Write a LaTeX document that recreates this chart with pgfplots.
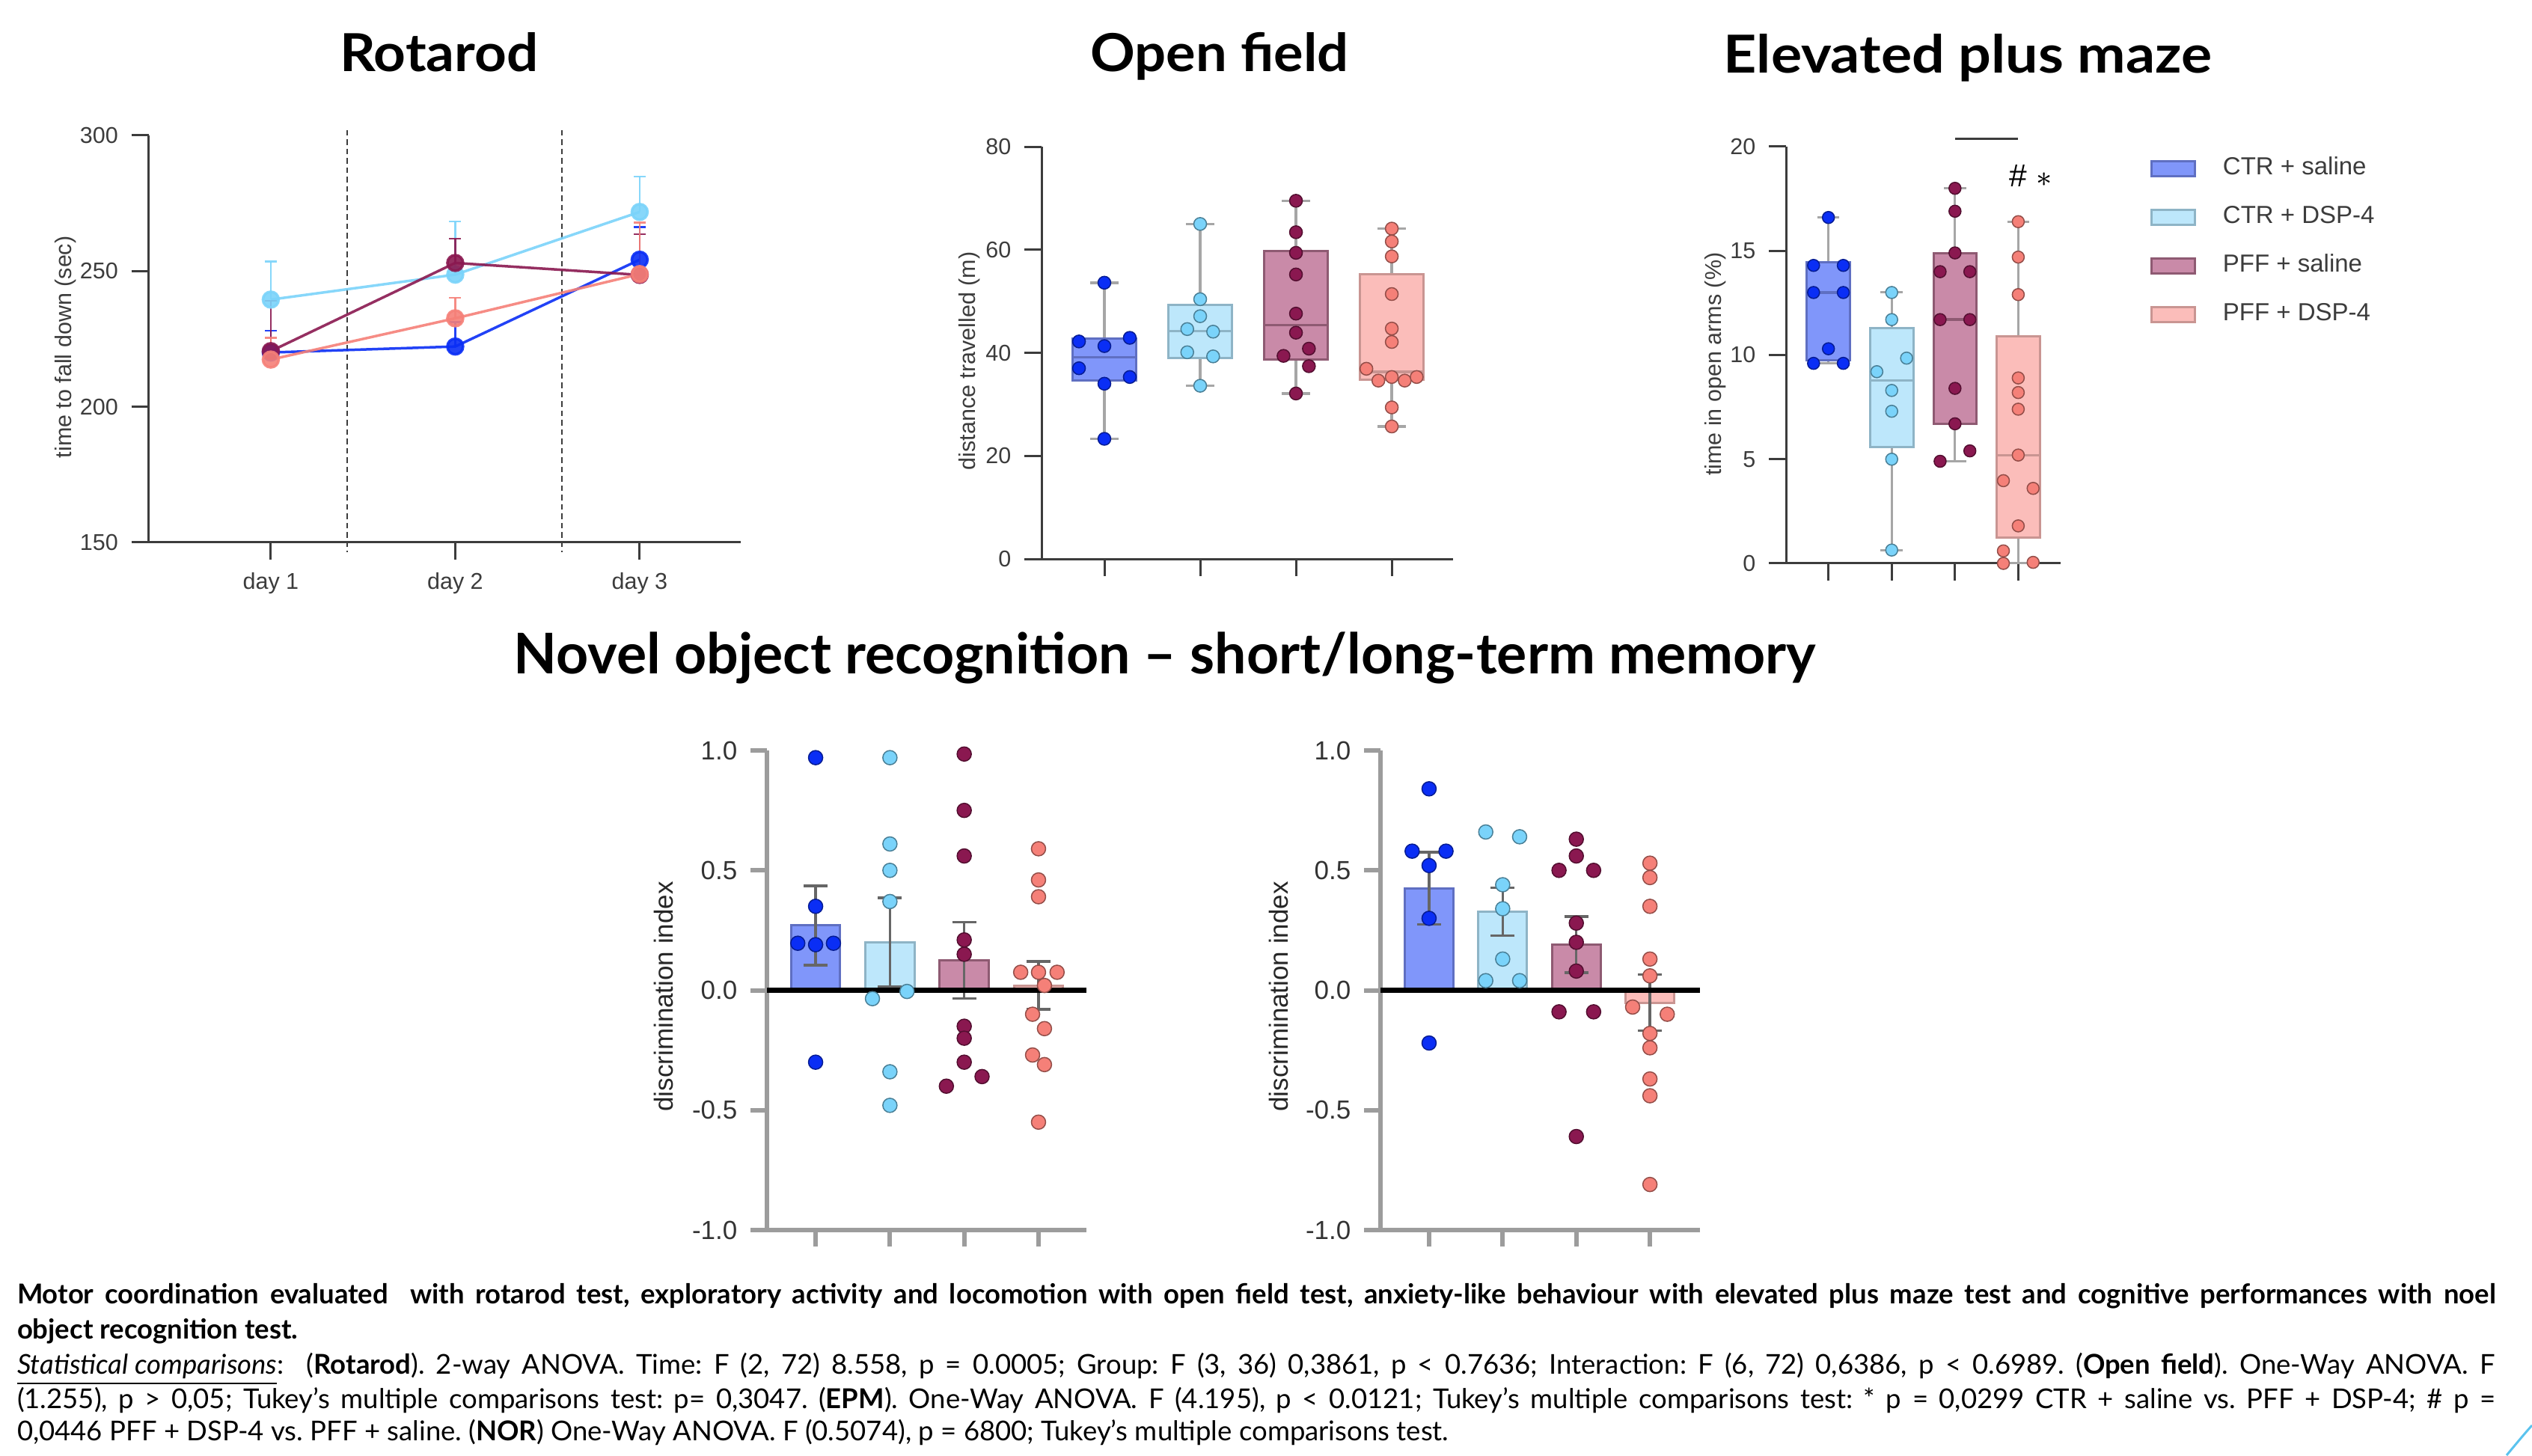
\documentclass[border=0pt]{standalone}
\usepackage{pgfplots}
\pgfplotsset{compat=1.18}
\usepgfplotslibrary{statistics}
\usepackage{graphicx}
\usepackage{fontspec}
\setmainfont{Liberation Sans}
\newfontfamily\titlefont{Lato}
\newfontfamily\capfont{Lato}

\definecolor{cA}{HTML}{0A2EF5}
\definecolor{cAfill}{HTML}{8096FA}
\definecolor{cAdraw}{HTML}{5F6FC2}
\definecolor{cB}{HTML}{7AD3FA}
\definecolor{cBfill}{HTML}{BDE7FB}
\definecolor{cBdraw}{HTML}{8EB4C6}
\definecolor{cC}{HTML}{8A1850}
\definecolor{cCfill}{HTML}{C98AA8}
\definecolor{cCdraw}{HTML}{8E5A72}
\definecolor{cD}{HTML}{F58078}
\definecolor{cDfill}{HTML}{FBBDBA}
\definecolor{cDdraw}{HTML}{C99592}
\definecolor{axgray}{HTML}{3C3C3C}
\definecolor{norgray}{HTML}{9C9C9C}
\definecolor{arcblue}{HTML}{5BC3EE}

\newcommand{\axfont}{\fontsize{6.1}{7}\selectfont}
\newcommand{\norfont}{\fontsize{7}{8}\selectfont}
\newcommand{\cfont}{\capfont\fontsize{7.3}{8.5}\selectfont\frenchspacing}

\pgfplotsset{
  gp/.style={scale only axis, anchor=south west, axis lines=left,
    axis line style={-, draw=axgray, line width=0.6pt},
    tick align=outside, major tick length=4.6pt,
    tick style={draw=axgray, line width=0.6pt},
    xtick pos=bottom, ytick pos=left, clip=false,
    ticklabel style={font=\axfont, text=axgray},
    label style={font=\axfont, text=axgray},
    boxplot/draw direction=y},
  nor/.style={scale only axis, anchor=south west, axis lines=left,
    axis line style={-, draw=norgray, line width=1.3pt},
    tick align=outside, major tick length=4.4pt,
    tick style={draw=norgray, line width=1.2pt},
    xtick pos=bottom, ytick pos=left, clip=false,
    ymin=-1, ymax=1, ytick={-1,-0.5,0,0.5,1}, yticklabels={-1.0,-0.5,0.0,0.5,1.0},
    xtick={1,2,3,4}, xticklabels={},
    ticklabel style={font=\norfont, text=black!80},
    label style={font=\norfont, text=black!85},
    ylabel={discrimination index},
    width=85.4pt, height=128.2pt},
  dots/.style 2 args={only marks, mark=*, mark size=#2,
    mark options={solid, fill=#1, draw=#1!60!black, line width=0.3pt}},
  rline/.style={color=#1, line width=0.7pt, opacity=0.9, mark=*, mark size=2.1pt,
    mark options={solid, fill=#1, draw=#1}, error bars/.cd, y dir=plus, y explicit,
    error bar style={line width=0.5pt, #1}, error mark options={rotate=90, mark size=1.6pt, line width=0.5pt, #1}},
  nbar/.style 2 args={ybar, bar width=0.66, bar shift=0pt, fill=#1, draw=#2, line width=0.6pt,
    error bars/.cd, y dir=both, y explicit,
    error bar style={draw=gray!80!black, line width=0.7pt},
    error mark options={rotate=90, draw=gray!80!black, line width=0.7pt, mark size=3.2pt}},
}

\begin{document}
\begin{tikzpicture}
\useasboundingbox (0pt,0pt) rectangle (676.8pt,389pt);

% ---------- titles ----------
\node[anchor=base, inner sep=0pt] at (117.4pt,369.8pt) {\resizebox{53pt}{\height}{\titlefont\fontsize{14}{16}\selectfont\bfseries Rotarod}};
\node[anchor=base, inner sep=0pt] at (326pt,369.8pt) {\resizebox{69pt}{\height}{\titlefont\fontsize{14}{16}\selectfont\bfseries Open field}};
\node[anchor=base, inner sep=0pt] at (526pt,369.5pt) {\resizebox{130.6pt}{\height}{\titlefont\fontsize{14}{16}\selectfont\bfseries Elevated plus maze}};
\node[anchor=base, inner sep=0pt] at (311.4pt,209pt) {\resizebox{348pt}{\height}{\titlefont\fontsize{15}{17}\selectfont\bfseries Novel object recognition – short/long-term memory}};

% ---------- Rotarod ----------
\begin{axis}[gp, at={(39.7pt,244pt)}, width=158.3pt, height=108.8pt,
  xmin=0.337, xmax=3.548, ymin=150, ymax=300,
  xtick={1,2,3}, xticklabels={day 1,day 2,day 3},
  ytick={150,200,250,300}, yticklabels={150,200,250,300},
  ylabel={time to fall down (sec)},
  ylabel style={at={(axis description cs:-0.14,0.48)}, anchor=center}]
\addplot[axgray, dash pattern=on 1.5pt off 1pt, line width=0.4pt] coordinates {(1.414,302) (1.414,146.5)};
\addplot[axgray, dash pattern=on 1.5pt off 1pt, line width=0.4pt] coordinates {(2.58,302) (2.58,146.5)};
\addplot[rline=cB] coordinates {(1,239.5) +- (0,14) (2,248.7) +- (0,19.6) (3,271.8) +- (0,13)};
\addplot[rline=cA] coordinates {(1,220) +- (0,8) (2,222.2) +- (0,9) (3,254.2) +- (0,12)};
\addplot[rline=cC] coordinates {(1,220.5) +- (0,18.5) (2,253) +- (0,9) (3,248.6) +- (0,15)};
\addplot[rline=cD] coordinates {(1,217.4) +- (0,8) (2,232.6) +- (0,7.5) (3,248.9) +- (0,19)};
\end{axis}

% ---------- Open field ----------
\begin{axis}[gp, at={(278.4pt,239.6pt)}, width=110pt, height=110.2pt,
  xmin=0.344, xmax=4.64, ymin=0, ymax=80,
  xtick={1,2,3,4}, xticklabels={},
  ytick={0,20,40,60,80}, yticklabels={0,20,40,60,80},
  ylabel={distance travelled (m)},
  ylabel style={at={(axis description cs:-0.175,0.48)}, anchor=center},
  boxplot/every whisker/.style={draw=gray!70, line width=0.7pt},
  boxplot/every median/.style={line width=0.7pt}]
\addplot[boxplot prepared={draw position=1, median=39.1, lower quartile=34.6, upper quartile=42.7, lower whisker=23.3, upper whisker=53.6, box extend=0.66, whisker extend=0.3}, fill=cAfill, draw=cAdraw, line width=0.6pt] coordinates {};
\addplot[boxplot prepared={draw position=2, median=44.2, lower quartile=39.0, upper quartile=49.3, lower whisker=33.6, upper whisker=65, box extend=0.66, whisker extend=0.3}, fill=cBfill, draw=cBdraw, line width=0.6pt] coordinates {};
\addplot[boxplot prepared={draw position=3, median=45.4, lower quartile=38.7, upper quartile=59.8, lower whisker=32.1, upper whisker=69.5, box extend=0.66, whisker extend=0.3}, fill=cCfill, draw=cCdraw, line width=0.6pt] coordinates {};
\addplot[boxplot prepared={draw position=4, median=36.3, lower quartile=34.8, upper quartile=55.3, lower whisker=25.7, upper whisker=64.1, box extend=0.66, whisker extend=0.3}, fill=cDfill, draw=cDdraw, line width=0.6pt] coordinates {};
\addplot[dots={cA}{1.7pt}] coordinates {(1,53.6) (0.735,42.2) (1,41.3) (1.265,42.9) (0.735,37.0) (1.265,35.3) (1,34.0) (1,23.3)};
\addplot[dots={cB}{1.7pt}] coordinates {(2,65) (2,50.4) (2,47.1) (1.865,44.6) (2.135,44.1) (1.865,40.1) (2.135,39.3) (2,33.6)};
\addplot[dots={cC}{1.7pt}] coordinates {(3,69.5) (3,63.4) (3,59.4) (3,55.2) (3,47.6) (3,43.9) (3.135,40.8) (2.87,39.4) (3.135,37.4) (3,32.1)};
\addplot[dots={cD}{1.7pt}] coordinates {(4,64.1) (4,61.6) (4,58.7) (4,51.4) (4,44.7) (4,42.1) (3.735,36.9) (4,35.3) (3.86,34.6) (4.135,34.6) (4.26,35.3) (4,29.4) (4,25.7)};
\end{axis}

% ---------- Elevated plus maze ----------
\begin{axis}[gp, at={(477.4pt,238.4pt)}, width=73.4pt, height=111.4pt,
  xmin=0.33, xmax=4.67, ymin=0, ymax=20,
  xtick={1,2,3,4}, xticklabels={},
  ytick={0,5,10,15,20}, yticklabels={0,5,10,15,20},
  ylabel={time in open arms (\%)},
  ylabel style={at={(axis description cs:-0.256,0.478)}, anchor=center},
  boxplot/every whisker/.style={draw=gray!70, line width=0.6pt},
  boxplot/every median/.style={line width=0.7pt},
  legend style={at={(1.324,0.995)}, anchor=north west, draw=none, fill=none,
    inner sep=0pt, font=\fontsize{6.6}{8}\selectfont, text=axgray, row sep=2.8pt,
    cells={anchor=west}, /tikz/every odd column/.append style={column sep=5.2pt}},
  legend image code/.code={\draw[#1, line width=0.6pt] (0pt,-2pt) rectangle (11.6pt,2pt);}]
\addlegendimage{fill=cAfill, draw=cAdraw}
\addlegendentry{CTR + saline}
\addlegendimage{fill=cBfill, draw=cBdraw}
\addlegendentry{CTR + DSP-4}
\addlegendimage{fill=cCfill, draw=cCdraw}
\addlegendentry{PFF + saline}
\addlegendimage{fill=cDfill, draw=cDdraw}
\addlegendentry{PFF + DSP-4}
\addplot[boxplot prepared={draw position=1, median=13.0, lower quartile=9.75, upper quartile=14.46, lower whisker=9.6, upper whisker=16.6, box extend=0.68, whisker extend=0.35}, fill=cAfill, draw=cAdraw, line width=0.6pt] coordinates {};
\addplot[boxplot prepared={draw position=2, median=8.78, lower quartile=5.6, upper quartile=11.3, lower whisker=0.64, upper whisker=13.0, box extend=0.68, whisker extend=0.35}, fill=cBfill, draw=cBdraw, line width=0.6pt] coordinates {};
\addplot[boxplot prepared={draw position=3, median=11.7, lower quartile=6.7, upper quartile=14.9, lower whisker=4.9, upper whisker=18.0, box extend=0.68, whisker extend=0.35}, fill=cCfill, draw=cCdraw, line width=0.6pt] coordinates {};
\addplot[boxplot prepared={draw position=4, median=5.18, lower quartile=1.24, upper quartile=10.9, lower whisker=0, upper whisker=16.4, box extend=0.68, whisker extend=0.35}, fill=cDfill, draw=cDdraw, line width=0.6pt] coordinates {};
\addplot[dots={cA}{1.6pt}] coordinates {(1,16.6) (0.765,14.3) (1.235,14.3) (0.765,13.0) (1.235,13.0) (1,10.3) (0.765,9.6) (1.235,9.6)};
\addplot[dots={cB}{1.6pt}] coordinates {(2,13.0) (2,11.7) (2.235,9.85) (1.765,9.2) (2,8.3) (2,7.3) (2,5.0) (2,0.64)};
\addplot[dots={cC}{1.6pt}] coordinates {(3,18.0) (3,16.9) (3,14.9) (2.765,14.0) (3.235,14.0) (2.765,11.7) (3.235,11.7) (3,8.4) (3,6.7) (3.235,5.4) (2.765,4.9)};
\addplot[dots={cD}{1.6pt}] coordinates {(4,16.4) (4,14.7) (4,12.9) (4,8.9) (4,8.2) (4,7.4) (4,5.2) (3.765,3.97) (4.235,3.6) (4,1.8) (3.765,0.6) (3.765,0) (4.235,0.05)};
\addplot[axgray, line width=0.6pt] coordinates {(3,20.37) (4,20.37)};
\node[font=\fontsize{8.5}{9}\selectfont, text=black] at (axis cs:4.2,18.6) {\# $\ast$};
\end{axis}

% ---------- NOR short ----------
\begin{axis}[nor, at={(205pt,60.2pt)}, xmin=0.345, xmax=4.645,
  ylabel style={at={(axis description cs:-0.323,0.487)}, anchor=center}]
\addplot[nbar={cAfill}{cAdraw}] coordinates {(1,0.27) +- (0,0.166)};
\addplot[nbar={cBfill}{cBdraw}] coordinates {(2,0.20) +- (0,0.185)};
\addplot[nbar={cCfill}{cCdraw}] coordinates {(3,0.125) +- (0,0.159)};
\addplot[nbar={cDfill}{cDdraw}] coordinates {(4,0.02) +- (0,0.10)};
\addplot[black, line width=1.3pt] coordinates {(0.345,0) (4.645,0)};
\addplot[dots={cA}{1.9pt}] coordinates {(1,0.97) (1,0.35) (0.76,0.196) (1,0.19) (1.24,0.196) (1,-0.30)};
\addplot[dots={cB}{1.9pt}] coordinates {(2,0.97) (2,0.61) (2,0.50) (2,0.37) (1.765,-0.035) (2.23,-0.005) (2,-0.34) (2,-0.48)};
\addplot[dots={cC}{1.9pt}] coordinates {(3,0.985) (3,0.75) (3,0.56) (3,0.21) (3,0.15) (3,-0.15) (3,-0.20) (3,-0.30) (3.24,-0.36) (2.76,-0.40)};
\addplot[dots={cD}{1.9pt}] coordinates {(4,0.59) (4,0.46) (4,0.39) (3.76,0.075) (4,0.075) (4.25,0.075) (4.08,0.02) (3.92,-0.10) (4.08,-0.16) (3.92,-0.27) (4.08,-0.31) (4,-0.55)};
\end{axis}

% ---------- NOR long ----------
\begin{axis}[nor, at={(369pt,60.2pt)}, xmin=0.34, xmax=4.68,
  ylabel style={at={(axis description cs:-0.318,0.487)}, anchor=center}]
\addplot[nbar={cAfill}{cAdraw}] coordinates {(1,0.425) +- (0,0.15)};
\addplot[nbar={cBfill}{cBdraw}] coordinates {(2,0.328) +- (0,0.10)};
\addplot[nbar={cCfill}{cCdraw}] coordinates {(3,0.19) +- (0,0.117)};
\addplot[nbar={cDfill}{cDdraw}] coordinates {(4,-0.052) +- (0,0.117)};
\addplot[black, line width=1.3pt] coordinates {(0.34,0) (4.68,0)};
\addplot[dots={cA}{1.9pt}] coordinates {(1,0.84) (0.77,0.58) (1.23,0.58) (1,0.52) (1,0.30) (1,-0.22)};
\addplot[dots={cB}{1.9pt}] coordinates {(1.77,0.66) (2.23,0.64) (2,0.44) (2,0.34) (2,0.13) (1.77,0.04) (2.23,0.04)};
\addplot[dots={cC}{1.9pt}] coordinates {(3,0.63) (3,0.56) (2.765,0.50) (3.235,0.50) (3,0.28) (3,0.20) (3,0.08) (2.765,-0.09) (3.235,-0.09) (3,-0.61)};
\addplot[dots={cD}{1.9pt}] coordinates {(4,0.53) (4,0.47) (4,0.35) (4,0.13) (4,0.06) (3.765,-0.07) (4.235,-0.10) (4,-0.18) (4,-0.24) (4,-0.37) (4,-0.44) (4,-0.81)};
\end{axis}

% ---------- caption ----------
\begin{scope}[every node/.style={anchor=base west, inner sep=0pt, text=black}]
\node at (4.4pt,40.6pt) {\cfont\bfseries\makebox[662.4pt][s]{Motor coordination evaluated\ \ with rotarod test, exploratory activity and locomotion with open field test, anxiety-like behaviour with elevated plus maze test and cognitive performances with noel}};
\node at (4.4pt,31.2pt) {\cfont\bfseries object recognition test.};
\node at (4.4pt,21.8pt) {\cfont\makebox[662.4pt][s]{\underline{\itshape Statistical comparisons}:\ \ (\textbf{Rotarod}). 2-way ANOVA. Time: F (2, 72) 8.558, p = 0.0005; Group: F (3, 36) 0,3861, p < 0.7636; Interaction: F (6, 72) 0,6386, p < 0.6989. (\textbf{Open field}). One-Way ANOVA. F}};
\node at (4.4pt,12.6pt) {\cfont\makebox[662.4pt][s]{(1.255), p > 0,05; Tukey’s multiple comparisons test: p= 0,3047. (\textbf{EPM}). One-Way ANOVA. F (4.195), p < 0.0121; Tukey’s multiple comparisons test: * p = 0,0299 CTR + saline vs. PFF + DSP-4; \# p =}};
\node at (4.4pt,4pt) {\cfont 0,0446 PFF + DSP-4 vs. PFF + saline. (\textbf{NOR}) One-Way ANOVA. F (0.5074), p = 6800; Tukey’s multiple comparisons test.};
\end{scope}

\draw[arcblue, line width=0.6pt] (670pt,0pt) .. controls (672.5pt,3pt) and (674.8pt,5.8pt) .. (676.8pt,8pt);
\end{tikzpicture}
\end{document}
